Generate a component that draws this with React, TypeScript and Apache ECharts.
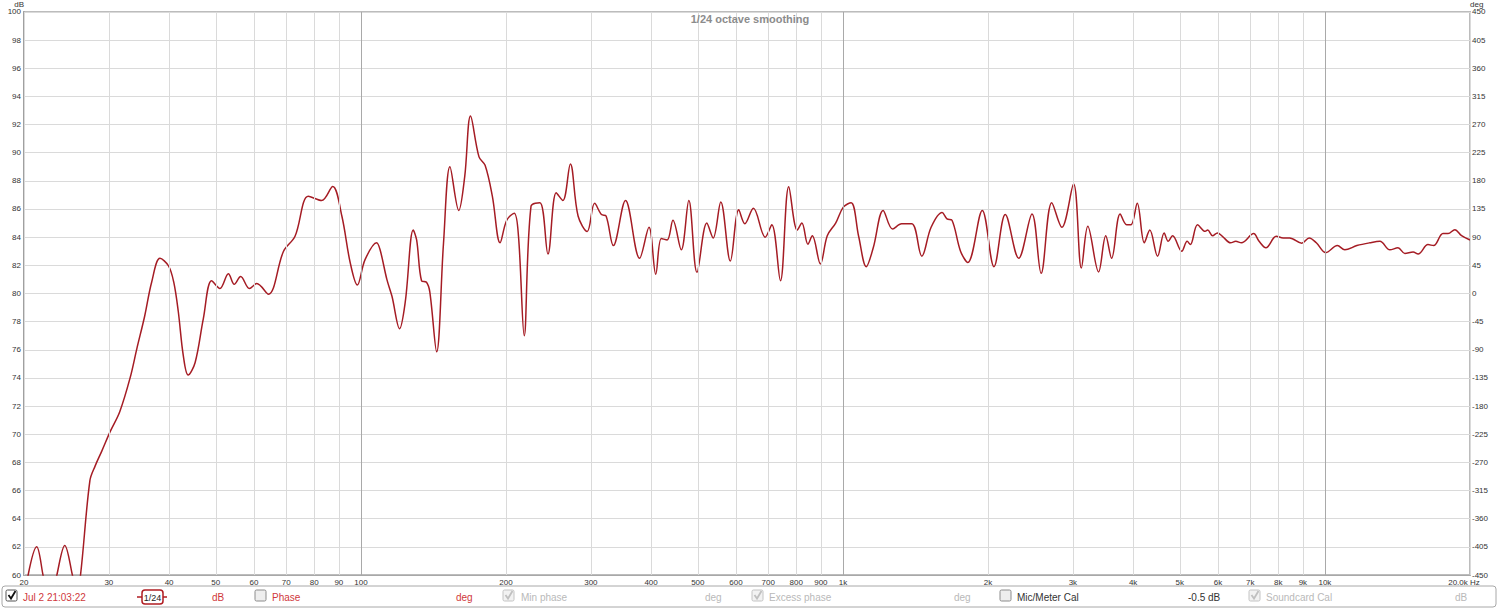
import React, { useEffect, useRef } from "react";
import * as echarts from "echarts";

// Frequency response (1/24 octave smoothing)
const freqHz = [
  20, 20.4, 21.25, 21.9, 22.6, 23.4, 24.3, 25.2, 25.7, 26.2, 27.4, 28.1, 29.0, 30.2, 31.6, 33.2, 34.3, 35.6, 36.8, 38.3,
  39.9, 40.9, 41.8, 42.8, 43.8, 45.3, 47.1, 49.0, 51.0, 53.1, 54.6, 56.3, 58.7, 60.8, 64.3, 69.1, 73.0, 77.8, 82.9, 87.4,
  91.3, 95.0, 98.3, 102, 107.8, 109.6, 113.2, 116, 120.3, 123.6, 128.4, 130.5, 133.6, 136.8, 139, 143.6, 148.4, 153, 159.6, 164.2,
  168.8, 175.8, 181, 187.4, 194.4, 200.7, 208, 212.3, 218.2, 225.4, 235.2, 244.4, 254.2, 262.4, 272, 282.2, 294.8, 305.4, 315.6, 322.6,
  334, 354, 378.6, 396, 409, 420, 432, 444, 462, 479, 498, 522, 538, 558, 584, 608, 626, 652, 690, 712,
  742, 772, 804, 822, 846, 864, 898, 928, 966, 1002, 1040, 1078, 1118, 1156, 1212, 1268, 1324, 1390, 1458, 1524,
  1606, 1644, 1684, 1754, 1816, 1946, 2058, 2172, 2316, 2468, 2578, 2712, 2846, 3010, 3124, 3222, 3392, 3510, 3610, 3760,
  3878, 3960, 4080, 4220, 4332, 4496, 4640, 4730, 4830, 5046, 5178, 5258, 5442, 5644, 5712, 5846, 5986, 6128, 6374, 6532,
  6710, 7114, 7302, 7544, 7926, 8192, 8450, 8952, 9276, 9598, 10040, 10614, 10996, 11650, 12402, 13006, 13640, 14178, 14656, 15240,
  15610, 16364, 16810, 17578, 18012, 18604, 19210, 20000,
];
const splDb = [
  57.5, 60, 62.0, 60, 57.5, 60, 62.1, 60, 58.5, 60, 66.7, 67.75, 68.8, 70.2, 71.6, 74.0, 76.1, 78.4, 80.8, 82.5,
  81.95, 80.8, 78.7, 75.6, 74.2, 75.1, 78.2, 80.9, 80.35, 81.4, 80.65, 81.2, 80.35, 80.7, 79.95, 83.0, 84.06, 86.9, 86.6, 87.6,
  85.5, 82.2, 80.6, 82.4, 83.6, 83.1, 81.0, 79.8, 77.5, 79.4, 84.5, 83.8, 80.9, 80.8, 80.1, 75.85, 83.6, 89.0, 85.9, 88.3,
  92.6, 89.7, 89.1, 86.9, 83.6, 85.2, 85.7, 84.06, 77.0, 86.2, 86.45, 82.8, 87.15, 86.6, 89.2, 85.5, 84.4, 86.4, 85.6, 85.5,
  83.4, 86.6, 82.5, 84.7, 81.36, 83.9, 83.8, 85.2, 83.1, 86.6, 81.5, 85.0, 83.94, 86.5, 82.3, 85.94, 84.95, 86.05, 84.0, 84.88,
  80.9, 87.58, 84.5, 85.0, 83.5, 84.1, 82.1, 84.1, 85.0, 86.13, 86.45, 84.06, 81.9, 83.24, 85.9, 84.58, 84.95, 84.95, 82.65, 84.7,
  85.75, 85.3, 85.2, 83.0, 82.2, 85.9, 81.9, 85.6, 82.5, 85.65, 81.43, 86.45, 84.7, 87.77, 81.8, 84.77, 81.53, 84.1, 82.5, 85.65,
  84.88, 84.88, 86.4, 83.6, 84.5, 82.65, 84.3, 83.7, 84.1, 83.0, 83.7, 83.47, 84.88, 84.41, 84.5, 84.1, 84.3, 84.06, 83.6, 83.7,
  83.6, 84.25, 83.7, 83.24, 84.06, 83.94, 83.94, 83.56, 83.94, 83.6, 82.9, 83.4, 83.1, 83.4, 83.6, 83.7, 83.1, 83.24, 82.84, 82.94,
  82.8, 83.47, 83.4, 84.25, 84.25, 84.53, 84.1, 83.8,
];

// Axis grid / labels
const gridFreqs = [
  20, 30, 40, 50, 60, 70, 80, 90, 100, 200, 300, 400, 500, 600, 700, 800, 900, 1000,
  2000, 3000, 4000, 5000, 6000, 7000, 8000, 9000, 10000, 20000,
];
const gridLabels = [
  "20", "30", "40", "50", "60", "70", "80", "90", "100", "200", "300", "400", "500", "600", "700", "800", "900", "1k",
  "2k", "3k", "4k", "5k", "6k", "7k", "8k", "9k", "10k", "20.0k Hz",
];
const decadeFreqs = [100, 1000, 10000];

// Bottom control bar
const legendTexts = [
  { text: "Jul 2 21:03:22", x: 23, color: "#d0383c" },
  { text: "dB", x: 212, color: "#d0383c" },
  { text: "Phase", x: 272, color: "#d0383c" },
  { text: "deg", x: 456, color: "#d0383c" },
  { text: "Min phase", x: 521, color: "#b9b9b9" },
  { text: "deg", x: 705, color: "#b9b9b9" },
  { text: "Excess phase", x: 769, color: "#b9b9b9" },
  { text: "deg", x: 954, color: "#b9b9b9" },
  { text: "Mic/Meter Cal", x: 1017, color: "#333333" },
  { text: "-0.5 dB", x: 1188, color: "#333333" },
  { text: "Soundcard Cal", x: 1266, color: "#b9b9b9" },
  { text: "dB", x: 1455, color: "#b9b9b9" },
];
const checkBoxes = [
  { x: 6, state: "on" },
  { x: 255, state: "off" },
  { x: 503, state: "dim" },
  { x: 752, state: "dim" },
  { x: 1000, state: "off" },
  { x: 1249, state: "dim" },
];

const FONT = "Liberation Sans, Arial, sans-serif";

function buildGraphic() {
  const els: any[] = [];
  els.push({
    type: "rect",
    shape: { x: 2, y: 586, width: 1494, height: 21, r: 3 },
    style: { fill: "#ffffff", stroke: "#a8a8a8", lineWidth: 1 },
    z: 10,
  });
  checkBoxes.forEach((c) => {
    const stroke = c.state === "on" ? "#555555" : c.state === "off" ? "#8c8c8c" : "#c4c4c4";
    const fill = c.state === "off" ? "#eeeeee" : c.state === "dim" ? "#f2f2f2" : "#ffffff";
    els.push({
      type: "rect",
      shape: { x: c.x, y: 590, width: 11, height: 11, r: 1.5 },
      style: { fill, stroke, lineWidth: 1 },
      z: 11,
    });
    if (c.state !== "off") {
      els.push({
        type: "polyline",
        shape: { points: [[c.x + 2.5, 595], [c.x + 5, 598.5], [c.x + 9.5, 591]] },
        style: { stroke: c.state === "on" ? "#111111" : "#c0c0c0", lineWidth: 1.8, fill: null },
        z: 12,
      });
    }
  });
  legendTexts.forEach((t) => {
    els.push({
      type: "text",
      x: t.x,
      y: 597,
      style: { text: t.text, fill: t.color, font: `10px ${FONT}`, verticalAlign: "middle", align: "left" },
      z: 12,
    });
  });
  // smoothing icon
  els.push({
    type: "line",
    shape: { x1: 137, y1: 597, x2: 167, y2: 597 },
    style: { stroke: "#b01c22", lineWidth: 1.5 },
    z: 11,
  });
  els.push({
    type: "rect",
    shape: { x: 142, y: 590, width: 21, height: 14, r: 3 },
    style: { fill: "#ffffff", stroke: "#b01c22", lineWidth: 1.5 },
    z: 12,
  });
  els.push({
    type: "text",
    x: 152.5,
    y: 597.5,
    style: { text: "1/24", fill: "#222222", font: `9px ${FONT}`, align: "center", verticalAlign: "middle" },
    z: 13,
  });
  return els;
}

export default function App() {
  const ref = useRef<HTMLDivElement>(null);
  useEffect(() => {
    document.body.style.margin = "0";
    const chart = echarts.init(ref.current!, null, { renderer: "svg" });
    const lineData = freqHz.map((f, i) => [f, splDb[i]]);
    chart.setOption({
      animation: false,
      backgroundColor: "#ffffff",
      textStyle: { fontFamily: FONT },
      title: {
        text: "1/24 octave smoothing",
        left: "center",
        top: 8,
        textStyle: { fontSize: 11, fontWeight: "bold", color: "#8c8c8c", fontFamily: FONT },
      },
      grid: {
        left: 24,
        right: 30,
        top: 7,
        bottom: 34,
        show: true,
        borderColor: "#bcbcbc",
        borderWidth: 2,
        backgroundColor: "#ffffff",
      },
      xAxis: {
        type: "log",
        logBase: 10,
        min: 20,
        max: 20000,
        axisLine: { show: true, onZero: false, lineStyle: { color: "#a8a8a8", width: 1 } },
        axisTick: { show: false },
        axisLabel: { show: false },
        splitLine: { show: false },
        minorSplitLine: { show: false },
      },
      yAxis: [
        {
          type: "value",
          min: 60,
          max: 100,
          interval: 2,
          position: "left",
          name: "dB",
          nameLocation: "end",
          nameGap: 1,
          nameTextStyle: { fontSize: 8, color: "#333", align: "right", padding: [0, 0, 0, 0] },
          axisLine: { show: true, onZero: false, lineStyle: { color: "#a0a0a0", width: 2 } },
          axisTick: { show: false },
          axisLabel: { fontSize: 8, color: "#333", margin: 3 },
          splitLine: { show: true, lineStyle: { color: "#dadada", width: 1 } },
        },
        {
          type: "value",
          min: -450,
          max: 450,
          interval: 45,
          position: "right",
          name: "deg",
          nameLocation: "end",
          nameGap: 1,
          nameTextStyle: { fontSize: 8, color: "#333", align: "left", padding: [0, 0, 0, 0] },
          axisLine: { show: true, onZero: false, lineStyle: { color: "#b0b0b0", width: 1 } },
          axisTick: { show: false },
          axisLabel: { fontSize: 8, color: "#333", margin: 2 },
          splitLine: { show: false },
        },
      ],
      series: [
        {
          type: "line",
          data: [[20, 60]],
          symbol: "none",
          silent: true,
          lineStyle: { width: 0, opacity: 0 },
          z: 1,
          markLine: {
            silent: true,
            symbol: ["none", "none"],
            animation: false,
            emphasis: { disabled: true },
            label: {
              show: true,
              position: "start",
              formatter: "{b}",
              color: "#333",
              fontSize: 8,
              distance: 3,
            },
            lineStyle: { type: "solid", width: 1, color: "#dadada" },
            data: gridFreqs.map((f, i) => ({
              xAxis: f,
              name: gridLabels[i],
              lineStyle: {
                type: "solid",
                width: 1,
                color: decadeFreqs.includes(f) ? "#a9a9a9" : "#dadada",
              },
              label: i === gridFreqs.length - 1 ? { offset: [-6, 0] } : undefined,
            })),
          },
        },
        {
          type: "line",
          name: "Jul 2 21:03:22",
          data: lineData,
          symbol: "none",
          smooth: 0.35,
          clip: true,
          z: 3,
          lineStyle: { color: "#a51c24", width: 1.5 },
        },
      ],
      graphic: buildGraphic(),
    });
    return () => chart.dispose();
  }, []);
  return (
    <div
      ref={ref}
      style={{ position: "fixed", left: 0, top: 0, width: 1500, height: 609, background: "#fff" }}
    />
  );
}
